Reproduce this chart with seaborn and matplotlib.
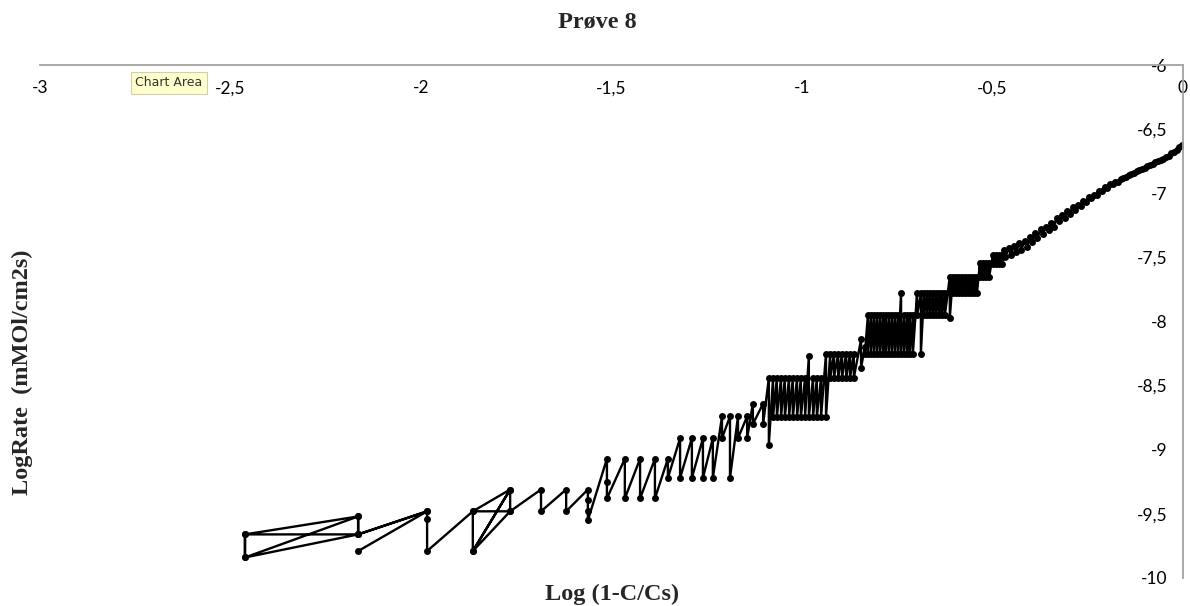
import matplotlib
matplotlib.use('Agg')
import pandas as pd
import matplotlib.pyplot as plt
import seaborn as sns

# leftmost, irregular part of the curve (path order, left to right)
tail_x = [-2.165, -1.984, -2.165, -2.165, -2.462, -2.462, -2.165, -2.165, -2.462, -2.462,
          -2.165, -1.984, -1.984, -1.984, -1.864, -1.766, -1.864, -1.864, -1.766, -1.864,
          -1.766, -1.766, -1.685, -1.685, -1.619, -1.619, -1.562, -1.562, -1.562, -1.562,
          -1.512, -1.512, -1.512, -1.465, -1.465, -1.425, -1.425, -1.386, -1.386, -1.352,
          -1.352, -1.320, -1.320, -1.289, -1.289, -1.260, -1.260, -1.234, -1.234, -1.210,
          -1.210, -1.189, -1.189, -1.168, -1.168, -1.144, -1.144, -1.129, -1.129, -1.102,
          -1.102]
tail_y = [-9.79, -9.48, -9.66, -9.52, -9.66, -9.84, -9.66, -9.52, -9.84, -9.66,
          -9.66, -9.48, -9.54, -9.79, -9.48, -9.48, -9.79, -9.48, -9.31, -9.79,
          -9.31, -9.48, -9.31, -9.48, -9.31, -9.48, -9.31, -9.39, -9.48, -9.55,
          -9.07, -9.25, -9.38, -9.07, -9.38, -9.07, -9.38, -9.07, -9.38, -9.07,
          -9.22, -8.91, -9.22, -8.91, -9.22, -8.91, -9.22, -8.91, -9.22, -8.74,
          -8.91, -8.74, -9.22, -8.74, -8.91, -8.74, -8.91, -8.64, -8.80, -8.64,
          -8.80]

# sawtooth plateaus: each column has an upper and a lower reading
step_x = [-1.087, -1.076, -1.066, -1.055, -1.045, -1.034, -1.024, -1.013, -1.003, -0.992,
          -0.982, -0.971, -0.961, -0.950, -0.937, -0.926, -0.916, -0.905, -0.895, -0.884,
          -0.874, -0.864, -0.845, -0.835, -0.827, -0.819, -0.811, -0.803, -0.795, -0.787,
          -0.780, -0.772, -0.764, -0.756, -0.748, -0.740, -0.732, -0.724, -0.717, -0.709,
          -0.698, -0.688, -0.680, -0.672, -0.664, -0.656, -0.648, -0.640, -0.633, -0.625,
          -0.612, -0.604, -0.596, -0.588, -0.580, -0.572, -0.564, -0.556, -0.549, -0.541,
          -0.533, -0.525, -0.517, -0.509, -0.499, -0.491, -0.483, -0.475]
step_hi = [-8.44, -8.44, -8.44, -8.44, -8.44, -8.44, -8.44, -8.44, -8.44, -8.44,
           -8.27, -8.44, -8.44, -8.44, -8.25, -8.25, -8.25, -8.25, -8.25, -8.25,
           -8.25, -8.25, -8.14, -8.20, -7.95, -7.95, -7.95, -7.95, -7.95, -7.95,
           -7.95, -7.95, -7.95, -7.95, -7.95, -7.78, -7.95, -7.95, -7.95, -7.95,
           -7.78, -7.78, -7.78, -7.78, -7.78, -7.78, -7.78, -7.78, -7.78, -7.78,
           -7.65, -7.65, -7.65, -7.65, -7.65, -7.65, -7.65, -7.65, -7.65, -7.65,
           -7.545, -7.545, -7.545, -7.545, -7.48, -7.48, -7.48, -7.48]
step_lo = [-8.96, -8.745, -8.745, -8.745, -8.745, -8.745, -8.745, -8.745, -8.745, -8.745,
           -8.745, -8.745, -8.745, -8.745, -8.745, -8.44, -8.44, -8.44, -8.44, -8.44,
           -8.44, -8.44, -8.36, -8.25, -8.25, -8.25, -8.25, -8.25, -8.25, -8.25,
           -8.25, -8.25, -8.25, -8.25, -8.25, -8.25, -8.25, -8.25, -8.25, -8.25,
           -7.95, -8.25, -7.95, -7.95, -7.95, -7.95, -7.95, -7.95, -7.95, -7.95,
           -7.97, -7.78, -7.78, -7.78, -7.78, -7.78, -7.78, -7.78, -7.78, -7.78,
           -7.655, -7.655, -7.655, -7.655, -7.55, -7.55, -7.55, -7.55]

# dense, nearly smooth part near C = 0
head_x = [-0.470, -0.466, -0.458, -0.452, -0.444, -0.438, -0.430, -0.424, -0.416, -0.410,
          -0.402, -0.396, -0.388, -0.382, -0.374, -0.368, -0.360, -0.353, -0.346, -0.339,
          -0.332, -0.325, -0.318, -0.311, -0.304, -0.297, -0.290, -0.283, -0.276, -0.269,
          -0.262, -0.255, -0.248, -0.241, -0.234, -0.227, -0.220, -0.213, -0.206, -0.199,
          -0.192, -0.185, -0.178, -0.171, -0.164, -0.157, -0.150, -0.143, -0.136, -0.129,
          -0.122, -0.115, -0.108, -0.101, -0.094, -0.087, -0.080, -0.073, -0.066, -0.059,
          -0.052, -0.045, -0.038, -0.031, -0.024, -0.017, -0.010, -0.003]
head_y = [-7.44, -7.50, -7.43, -7.48, -7.41, -7.46, -7.39, -7.44, -7.37, -7.42,
          -7.34, -7.38, -7.31, -7.35, -7.28, -7.32, -7.26, -7.29, -7.23, -7.26,
          -7.19, -7.22, -7.17, -7.19, -7.14, -7.16, -7.11, -7.13, -7.09, -7.10,
          -7.06, -7.07, -7.03, -7.04, -7.01, -7.01, -6.98, -6.98, -6.95, -6.96,
          -6.93, -6.93, -6.91, -6.91, -6.89, -6.88, -6.87, -6.86, -6.85, -6.84,
          -6.83, -6.82, -6.81, -6.80, -6.79, -6.78, -6.77, -6.76, -6.75, -6.74,
          -6.73, -6.72, -6.71, -6.69, -6.68, -6.66, -6.64, -6.62]

x_ticks = [-3, -2.5, -2, -1.5, -1, -0.5, 0]
x_tick_labels = ['-3', '-2,5', '-2', '-1,5', '-1', '-0,5', '0']
y_ticks = [-10, -9.5, -9, -8.5, -8, -7.5, -7, -6.5, -6]
y_tick_labels = ['-10', '-9,5', '-9', '-8,5', '-8', '-7,5', '-7', '-6,5', '-6']

# build the measurement path in drawing order
path_x = list(tail_x)
path_y = list(tail_y)
for x, hi, lo in zip(step_x, step_hi, step_lo):
    path_x += [x, x]
    path_y += [hi, lo]
path_x += head_x
path_y += head_y
df = pd.DataFrame({'x': path_x, 'y': path_y})

sns.set_style('white')
W, H = 1190, 606
fig = plt.figure(figsize=(W / 100, H / 100), dpi=100)
ax = fig.add_axes([40 / W, 1 - 578 / H, (1183 - 40) / W, (578 - 65) / H])

sns.lineplot(data=df, x='x', y='y', sort=False, estimator=None, ax=ax,
             color='black', linewidth=1.7, marker='o', markersize=5,
             markeredgewidth=0)

ax.set_xlim(-3, 0)
ax.set_ylim(-10, -6)
grey = '#a3a3a3'
for s in ['top', 'right']:
    ax.spines[s].set_visible(False)
ax.spines['left'].set_position(('data', 0))
ax.spines['bottom'].set_position(('data', -6))
for s in ['left', 'bottom']:
    ax.spines[s].set_color(grey)
    ax.spines[s].set_linewidth(1.3)
ax.set_xticks(x_ticks)
ax.set_xticklabels(x_tick_labels)
ax.set_yticks(y_ticks)
ax.set_yticklabels(y_tick_labels)
ax.tick_params(direction='out', length=5, width=1.2, color=grey,
               labelsize=12.5, pad=6, labelcolor='black')
for lab in ax.get_xticklabels() + ax.get_yticklabels():
    lab.set_fontfamily('Lato')
ax.set_xlabel('')
ax.set_ylabel('')

serif = dict(family='Liberation Serif', fontweight='bold', fontsize=17.5)
fig.text(597 / W, 1 - 22 / H, 'Prøve 8', ha='center', va='center', **serif)
fig.text(612 / W, 1 - 594 / H, 'Log (1-C/Cs)', ha='center', va='center', **serif)
fig.text(22 / W, 1 - 372 / H, 'LogRate  (mMOl/cm2s)', ha='center', va='center',
         rotation=90, **serif)

fig.text(169 / W, 1 - 83 / H, 'Chart Area', ha='center', va='center',
         fontsize=9, color='#333333', family='DejaVu Sans',
         bbox=dict(boxstyle='square,pad=0.35', fc='#ffffcc', ec='#d0d0b0', lw=0.8))

fig.savefig('out.png', dpi=100)
